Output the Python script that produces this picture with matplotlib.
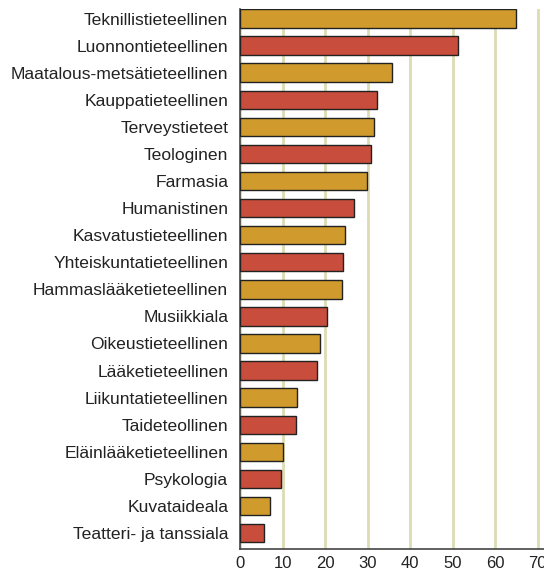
import matplotlib
matplotlib.use("Agg")
import matplotlib.pyplot as plt
from matplotlib import font_manager

categories = ["Teknillistieteellinen", "Luonnontieteellinen", "Maatalous-metsätieteellinen",
              "Kauppatieteellinen", "Terveystieteet", "Teologinen", "Farmasia", "Humanistinen",
              "Kasvatustieteellinen", "Yhteiskuntatieteellinen", "Hammaslääketieteellinen",
              "Musiikkiala", "Oikeustieteellinen", "Lääketieteellinen", "Liikuntatieteellinen",
              "Taideteollinen", "Eläinlääketieteellinen", "Psykologia", "Kuvataideala",
              "Teatteri- ja tanssiala"]
values = [65.0, 51.3, 35.8, 32.2, 31.4, 30.7, 29.8, 26.9, 24.6, 24.3, 24.1, 20.5, 18.8, 18.0,
          13.3, 13.2, 10.0, 9.6, 7.0, 5.6]
xticks = [0, 10, 20, 30, 40, 50, 60, 70]

gold = "#D09B2C"
red = "#C94D3C"
colors = [gold if i % 2 == 0 else red for i in range(len(values))]

fig = plt.figure(figsize=(5.44, 5.74), dpi=100)
ax = fig.add_axes([240/544, 1-549.3/574, 1-240/544, (549.3-9.3)/574])

y = list(range(len(values)))
ax.barh(y, values, height=0.68, color=colors, edgecolor="#222222", linewidth=1.0, zorder=3)
ax.set_ylim(len(values)-1+0.6, -0.34)
ax.set_xlim(0, 71.5)

ax.set_xticks(xticks)
ax.xaxis.grid(True, color="#DCDCB4", linewidth=2, zorder=0)
ax.set_axisbelow(True)
ax.set_yticks(y)
ax.set_yticklabels(categories, fontsize=12.6, family="Liberation Sans", color="#222222")

names = {f.name for f in font_manager.fontManager.ttflist}
tickfam = "Liberation Sans Narrow" if "Liberation Sans Narrow" in names else "Liberation Sans"
ax.set_xticklabels([str(t) for t in xticks], fontsize=12, family=tickfam, color="#222222")
ax.tick_params(axis="y", length=0, pad=8.5)
ax.tick_params(axis="x", length=0, pad=5)

for s in ["top", "right"]:
    ax.spines[s].set_visible(False)
for s in ["left", "bottom"]:
    ax.spines[s].set_color("#444444")
    ax.spines[s].set_linewidth(1.2)

fig.savefig("out.png", dpi=100)
